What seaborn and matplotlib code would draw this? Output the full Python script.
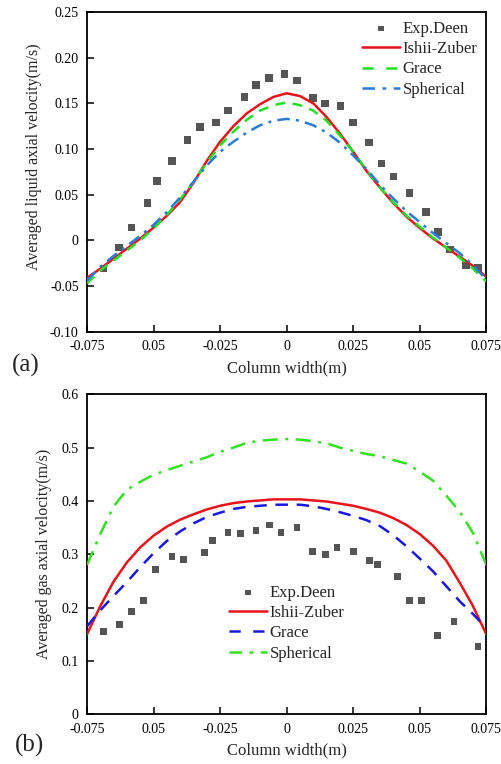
import numpy as np
import pandas as pd
import matplotlib
matplotlib.use("Agg")
import matplotlib.pyplot as plt
import seaborn as sns

sns.set_style("ticks")
plt.rcParams['font.family'] = ['Liberation Serif', 'DejaVu Serif']

# ---------------- data: (a) liquid axial velocity ----------------
exp_a_x = [-0.0688, -0.0629, -0.0583, -0.0523, -0.0488, -0.0431, -0.0372, -0.0326,
           -0.0265, -0.0220, -0.0159, -0.0115, -0.0067, -0.0008, 0.0040, 0.0098,
           0.0144, 0.0203, 0.0250, 0.0309, 0.0356, 0.0402, 0.0462, 0.0523,
           0.0568, 0.0614, 0.0674, 0.0719]
exp_a_y = [-0.031, -0.008, 0.014, 0.041, 0.065, 0.087, 0.110, 0.124,
           0.129, 0.142, 0.157, 0.170, 0.178, 0.182, 0.175, 0.156,
           0.150, 0.147, 0.129, 0.107, 0.084, 0.070, 0.052, 0.031,
           0.009, -0.010, -0.027, -0.030]

x_grid = [-0.075, -0.070, -0.065, -0.060, -0.055, -0.050, -0.045, -0.040, -0.035,
          -0.030, -0.025, -0.020, -0.015, -0.010, -0.005, 0.0, 0.005, 0.010,
          0.015, 0.020, 0.025, 0.030, 0.035, 0.040, 0.045, 0.050, 0.055,
          0.060, 0.065, 0.070, 0.075]

ishii_a = [-0.041, -0.031, -0.020, -0.009, 0.002, 0.014, 0.027, 0.042, 0.063,
           0.087, 0.108, 0.125, 0.139, 0.149, 0.157, 0.161, 0.158, 0.150,
           0.135, 0.117, 0.097, 0.076, 0.058, 0.041, 0.026, 0.0135, 0.002,
           -0.008, -0.018, -0.028, -0.040]
grace_a = [-0.047, -0.033, -0.022, -0.011, 0.000, 0.013, 0.028, 0.045, 0.064,
           0.085, 0.104, 0.119, 0.132, 0.142, 0.148, 0.151, 0.148, 0.142,
           0.131, 0.115, 0.097, 0.077, 0.058, 0.042, 0.027, 0.015, 0.003,
           -0.008, -0.019, -0.031, -0.045]
spher_a = [-0.044, -0.029, -0.017, -0.006, 0.005, 0.017, 0.031, 0.047, 0.064,
           0.082, 0.097, 0.108, 0.118, 0.126, 0.131, 0.133, 0.131, 0.126,
           0.118, 0.107, 0.093, 0.078, 0.061, 0.046, 0.032, 0.020, 0.008,
           -0.003, -0.014, -0.027, -0.043]

# ---------------- data: (b) gas axial velocity ----------------
exp_b_x = [-0.0689, -0.0629, -0.0583, -0.0538, -0.0493, -0.0431, -0.0386, -0.0310,
           -0.0280, -0.0220, -0.0174, -0.0115, -0.0065, -0.0021, 0.0039, 0.0098,
           0.0145, 0.0189, 0.0250, 0.0310, 0.0341, 0.0417, 0.0462, 0.0508,
           0.0568, 0.0629, 0.0719]
exp_b_y = [0.156, 0.169, 0.193, 0.214, 0.271, 0.296, 0.290, 0.304,
           0.326, 0.341, 0.339, 0.344, 0.355, 0.341, 0.350, 0.306,
           0.299, 0.313, 0.306, 0.289, 0.281, 0.258, 0.213, 0.214,
           0.147, 0.174, 0.127]

ishii_b = [0.150, 0.203, 0.249, 0.285, 0.313, 0.335, 0.352, 0.365, 0.375,
           0.384, 0.391, 0.396, 0.399, 0.401, 0.403, 0.403, 0.403, 0.401,
           0.399, 0.395, 0.391, 0.385, 0.378, 0.368, 0.355, 0.338, 0.316,
           0.288, 0.247, 0.203, 0.150]
grace_b = [0.165, 0.195, 0.222, 0.248, 0.276, 0.302, 0.325, 0.343, 0.358,
           0.370, 0.378, 0.385, 0.389, 0.391, 0.393, 0.393, 0.393, 0.390,
           0.385, 0.379, 0.372, 0.364, 0.353, 0.336, 0.315, 0.292, 0.268,
           0.240, 0.212, 0.188, 0.162]
spher_b = [0.280, 0.338, 0.390, 0.421, 0.436, 0.449, 0.458, 0.466, 0.474,
           0.482, 0.492, 0.500, 0.509, 0.513, 0.515, 0.516, 0.515, 0.512,
           0.508, 0.500, 0.494, 0.488, 0.484, 0.477, 0.470, 0.455, 0.438,
           0.410, 0.380, 0.340, 0.280]

x_ticks = [-0.075, -0.05, -0.025, 0.0, 0.025, 0.05, 0.075]
x_ticklabels = ["-0.075", "0.05", "-0.025", "0", "0.025", "0.05", "0.075"]
ya_ticks = [-0.10, -0.05, 0.0, 0.05, 0.10, 0.15, 0.20, 0.25]
ya_ticklabels = ["-0.10", "-0.05", "0", "0.05", "0.10", "0.15", "0.20", "0.25"]
yb_ticks = [0.0, 0.1, 0.2, 0.3, 0.4, 0.5, 0.6]
yb_ticklabels = ["0", "0.1", "0.2", "0.3", "0.4", "0.5", "0.6"]

W, H = 502, 764
fig = plt.figure(figsize=(W / 100, H / 100), dpi=100)

def fx(px):
    return px / W

def fy(py):
    return 1 - py / H

L, R = 87, 486.3
ax1 = fig.add_axes([fx(L), fy(331.7), fx(R) - fx(L), fy(12) - fy(331.7)])
ax2 = fig.add_axes([fx(L), fy(714.3), fx(R) - fx(L), fy(394.3) - fy(714.3)])

dfa = pd.DataFrame({"x": x_grid, "ishii": ishii_a, "grace": grace_a, "spher": spher_a})
dfb = pd.DataFrame({"x": x_grid, "ishii": ishii_b, "grace": grace_b, "spher": spher_b})

red = "#e8141b"
gray = "#555555"
green_a = "#22e022"
blue_a = "#2a7bd6"
blue_b = "#1818e0"
green_b = "#33e022"

# ---- (a) ----
sns.scatterplot(x=exp_a_x, y=exp_a_y, marker="s", s=30, color=gray, edgecolor="none",
                ax=ax1, label="Exp.Deen", zorder=3)
sns.lineplot(data=dfa, x="x", y="ishii", color=red, lw=1.8, ax=ax1, label="Ishii-Zuber",
             sort=False, zorder=4)
sns.lineplot(data=dfa, x="x", y="grace", color=green_a, lw=1.8, ax=ax1, label="Grace",
             sort=False, linestyle=(0, (4, 3)), zorder=4)
sns.lineplot(data=dfa, x="x", y="spher", color=blue_a, lw=1.8, ax=ax1, label="Spherical",
             sort=False, linestyle=(0, (5, 2.5, 1.2, 2.5)), zorder=4)

# ---- (b) ----
sns.scatterplot(x=exp_b_x, y=exp_b_y, marker="s", s=24, color=gray, edgecolor="none",
                ax=ax2, label="Exp.Deen", zorder=3)
sns.lineplot(data=dfb, x="x", y="ishii", color=red, lw=1.8, ax=ax2, label="Ishii-Zuber",
             sort=False, zorder=4)
sns.lineplot(data=dfb, x="x", y="grace", color=blue_b, lw=1.8, ax=ax2, label="Grace",
             sort=False, linestyle=(0, (5, 3.5)), zorder=4)
sns.lineplot(data=dfb, x="x", y="spher", color=green_b, lw=1.8, ax=ax2, label="Spherical",
             sort=False, linestyle=(0, (6, 3, 1.2, 3)), zorder=4)

for ax in (ax1, ax2):
    ax.set_xlim(-0.075, 0.075)
    ax.set_xticks(x_ticks)
    ax.set_xticklabels(x_ticklabels)
    for s in ax.spines.values():
        s.set_visible(True)
        s.set_linewidth(1.3)
        s.set_color("black")
    ax.tick_params(direction="in", length=5, width=1.1, labelsize=10, pad=6,
                   colors="black", top=False, right=False)
    ax.set_xlabel("Column width(m)", fontsize=12, labelpad=5)

ax1.set_ylim(-0.10, 0.25)
ax1.set_yticks(ya_ticks)
ax1.set_yticklabels(ya_ticklabels)
ax1.set_ylabel("Averaged liquid axial velocity(m/s)", fontsize=11.5)
ax1.yaxis.set_label_coords(-0.113, 0.546)

ax2.set_ylim(0, 0.6)
ax2.set_yticks(yb_ticks)
ax2.set_yticklabels(yb_ticklabels)
ax2.set_ylabel("Averaged gas axial velocity(m/s)", fontsize=11.5)
ax2.yaxis.set_label_coords(-0.088, 0.5)

# legends
h1, l1 = ax1.get_legend_handles_labels()
h1[2] = plt.Line2D([], [], color=green_a, lw=1.8, linestyle=(0, (4.5, 5)))
h1[3] = plt.Line2D([], [], color=blue_a, lw=1.8, linestyle=(0, (5, 3, 1.5, 3)))
ax1.legend(h1, l1, loc="upper left", bbox_to_anchor=(fx(362), fy(21)),
           bbox_transform=fig.transFigure, frameon=False, fontsize=12,
           handlelength=2.3, handletextpad=0.15, borderpad=0, labelspacing=0.25,
           borderaxespad=0, markerscale=0.75)

h2, l2 = ax2.get_legend_handles_labels()
h2[2] = plt.Line2D([], [], color=blue_b, lw=1.8, linestyle=(0, (4.5, 5)))
h2[3] = plt.Line2D([], [], color=green_b, lw=1.8, linestyle=(0, (5, 3, 1.5, 3)))
ax2.legend(h2, l2, loc="upper left", bbox_to_anchor=(fx(229), fy(585)),
           bbox_transform=fig.transFigure, frameon=False, fontsize=12,
           handlelength=2.3, handletextpad=0.15, borderpad=0, labelspacing=0.25,
           borderaxespad=0, markerscale=0.8)

fig.text(fx(26), fy(365), "(a)", fontsize=18, ha="center", va="center")
fig.text(fx(30), fy(745), "(b)", fontsize=18, ha="center", va="center")

fig.savefig("out.png", dpi=100)
